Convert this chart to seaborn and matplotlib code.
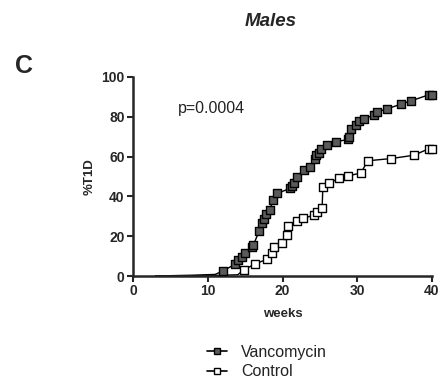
import matplotlib
matplotlib.use("Agg")
import matplotlib.pyplot as plt
from matplotlib.lines import Line2D
import seaborn as sns
import pandas as pd

# Cumulative diabetes incidence (%T1D) by week of age, male mice
vanco_weeks = [3.0, 8.0, 11.0, 12.1, 13.7, 14.1, 14.6, 15.0, 15.9, 16.1, 16.9, 17.3, 17.5,
               17.8, 18.3, 18.7, 19.3, 21.0, 21.3, 21.5, 22.0, 22.9, 23.7, 24.3, 24.5,
               24.9, 25.2, 26.0, 27.1, 28.7, 28.9, 29.2, 29.8, 30.2, 30.9, 32.2, 32.7,
               34.0, 35.8, 37.2, 39.6, 40.0]
vanco_pct = [0.0, 0.4, 0.8, 2.7, 6.0, 8.0, 9.7, 11.7, 14.4, 15.6, 22.7, 26.4, 28.4,
             31.0, 33.0, 38.0, 41.5, 44.0, 45.0, 46.8, 50.0, 53.5, 55.0, 59.0, 60.7,
             62.0, 64.0, 65.7, 67.4, 68.6, 70.0, 74.0, 75.8, 77.8, 79.0, 80.8, 82.4,
             84.0, 86.3, 88.0, 91.1, 91.1]

ctrl_weeks = [3.0, 10.0, 14.0, 14.8, 16.3, 17.9, 18.6, 18.8, 19.9, 20.6, 20.8, 21.9,
              22.8, 24.2, 24.6, 25.3, 25.4, 26.2, 27.5, 28.7, 30.5, 31.4, 34.5, 37.6,
              39.6, 40.0]
ctrl_pct = [0.0, 0.2, 0.6, 3.0, 6.0, 8.4, 11.4, 14.7, 16.4, 20.6, 25.3, 27.6,
            29.0, 30.6, 32.3, 34.0, 44.8, 46.5, 49.0, 50.2, 51.8, 57.9, 59.0, 60.7,
            64.0, 64.0]

groups = ["Vancomycin", "Control"]
p_label = "p=0.0004"

df = pd.concat([
    pd.DataFrame({"weeks": vanco_weeks, "pct": vanco_pct, "group": groups[0]}),
    pd.DataFrame({"weeks": ctrl_weeks, "pct": ctrl_pct, "group": groups[1]}),
], ignore_index=True)

sns.set_style("ticks")
plt.rcParams["font.family"] = ["Liberation Sans", "DejaVu Sans"]

fills = {"Vancomycin": "#5a5a5a", "Control": "white"}

fig = plt.figure(figsize=(4.43, 3.81), dpi=100)
ax = fig.add_axes([133 / 443, 1 - 276 / 381, (432 - 133) / 443, (276 - 77) / 381])

for g in groups:
    sub = df[df["group"] == g]
    sns.lineplot(data=sub, x="weeks", y="pct", ax=ax, color="black", lw=1.0,
                 estimator=None, sort=False, legend=False, zorder=2)
    pts = sub[sub["pct"] > 1.0]
    sns.scatterplot(data=pts, x="weeks", y="pct", ax=ax, marker="s", s=26,
                    color=fills[g], edgecolor="black", linewidth=1.0,
                    legend=False, zorder=3, clip_on=False)

ax.set_xlim(0, 40)
ax.set_ylim(0, 100)
ax.set_xticks([0, 10, 20, 30, 40])
ax.set_yticks([0, 20, 40, 60, 80, 100])
ax.set_xlabel("weeks", fontsize=9.5, fontweight="bold", labelpad=7)
ax.set_ylabel("%T1D", fontsize=9.5, fontweight="bold", labelpad=4)
ax.tick_params(axis="both", labelsize=10, width=1.5, length=4, direction="out", pad=2)
for lbl in ax.get_xticklabels() + ax.get_yticklabels():
    lbl.set_fontweight("bold")
sns.despine(ax=ax)
for side in ("left", "bottom"):
    ax.spines[side].set_linewidth(1.8)

ax.text(10.5, 84, p_label, fontsize=11.5, ha="center", va="center", color="#222222")

fig.text(271 / 443, 1 - 22 / 381, "Males", fontsize=13.5, fontweight="bold",
         fontstyle="italic", ha="center", va="center")
fig.text(24 / 443, 1 - 66 / 381, "C", fontsize=18, fontweight="bold",
         ha="center", va="center")

handles = [
    Line2D([], [], color="black", lw=1.2, marker="s", markersize=5,
           markerfacecolor=fills[g], markeredgecolor="black")
    for g in groups
]
fig.legend(handles, groups, loc="center left", bbox_to_anchor=(193 / 443, 1 - 362 / 381),
           frameon=False, fontsize=11.5, handlelength=1.2, handletextpad=0.9,
           labelspacing=0.3, labelcolor="#222222")

fig.savefig("out.png", dpi=100)
